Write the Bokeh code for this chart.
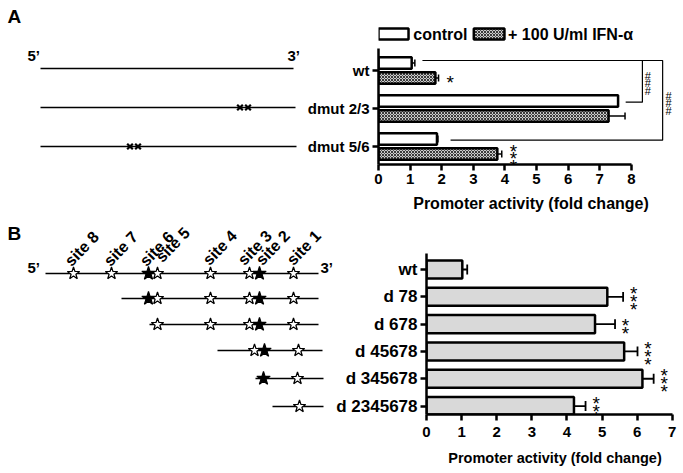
import numpy as np
from bokeh.plotting import figure
from bokeh.models import Range1d, FixedTicker, ColumnDataSource
from bokeh.layouts import row, column
from bokeh.core.properties import value
from bokeh.transform import dodge
from bokeh.embed import file_html
from bokeh.resources import INLINE

FONT = "Liberation Sans"

# ---------------- Panel A data ----------------
a_constructs = ["wt", "dmut 2/3", "dmut 5/6"]
a_control = [1.05, 7.58, 1.85]
a_control_err = [0.10, 0.0, 0.03]
a_ifn = [1.80, 7.28, 3.76]
a_ifn_err = [0.10, 0.52, 0.14]
a_ifn_sig = ["*", "", "***"]
a_xticks = [0, 1, 2, 3, 4, 5, 6, 7, 8]
a_legend = ["control", "+ 100 U/ml IFN-\u03b1"]

# ---------------- Panel B data ----------------
b_constructs = ["wt", "d 78", "d 678", "d 45678", "d 345678", "d 2345678"]
b_activity = [1.02, 5.15, 4.80, 5.63, 6.15, 4.20]
b_err = [0.14, 0.45, 0.57, 0.38, 0.32, 0.33]
b_sig = ["", "***", "**", "***", "***", "***"]
b_xticks = [0, 1, 2, 3, 4, 5, 6, 7]

# promoter diagram (B): site positions along promoter, black = filled star
site_names = ["site 8", "site 7", "site 6", "site 5", "site 4", "site 3", "site 2", "site 1"]
site_pos = [73, 111, 148, 157, 210, 249, 259, 293]
site_black = [False, False, True, False, False, False, True, False]
label_x = [67, 106, 142, 158, 205, 240, 258, 289]
label_y = [263, 263, 263, 259, 262, 262, 262, 262]
row_first_site = [0, 2, 3, 5, 6, 7]   # index of first remaining site per construct
row_start = [45, 121, 149, 217, 255, 272]
row_end = [318, 318, 318, 322, 323, 323]
row_shift = [0, 0, 0, 5, 4, 6]
row_y = [273, 298, 324, 350, 378, 406]

# promoter diagram (A)
a_line_y = [68, 107, 146]
a_line_end = [293, 295, 296]
a_mut_pos = [None, 243.5, 133.5]


def neg(v):
    return [-x for x in v]


def clean(p):
    p.grid.visible = False
    p.outline_line_color = None
    p.frame_align = False
    return p


def style_axis(ax, size="15px"):
    ax.axis_line_width = 2.5
    ax.axis_line_color = "black"
    ax.major_tick_line_width = 2.5
    ax.major_tick_line_color = "black"
    ax.minor_tick_line_color = None
    ax.major_tick_in = 0
    ax.major_label_text_font = FONT
    ax.major_label_text_font_style = "bold"
    ax.major_label_text_font_size = size
    ax.major_label_text_color = "black"
    ax.axis_label_text_font = FONT
    ax.axis_label_text_font_style = "bold"
    ax.axis_label_text_color = "black"


def stacked(x, y, n, spacing):
    xs, ys = [], []
    for j in range(n):
        xs.append(x)
        ys.append(y + (j - (n - 1) / 2) * spacing)
    return xs, ys


TOP_H = 220
BOT_H = 251
DA_W = 300
DB_W = 333
TOTAL_W = 683

# ================= Diagram A =================
dA = clean(figure(width=DA_W, height=TOP_H, x_range=Range1d(0, DA_W), y_range=Range1d(-TOP_H, 0),
                  output_backend="svg", toolbar_location=None, min_border=0,
                  x_axis_location=None, y_axis_location=None))
dA.text(x=[7], y=[-16], text=["A"], text_font=value(FONT), text_font_style="bold",
        text_font_size="19px", text_baseline="middle", text_color="black")
dA.text(x=[27, 287], y=[-55, -55], text=["5\u2019", "3\u2019"], text_font=value(FONT),
        text_font_style="bold", text_font_size="15px", text_baseline="middle", text_color="black")
dA.segment(x0=[40] * 3, x1=a_line_end, y0=neg(a_line_y), y1=neg(a_line_y), line_color="black", line_width=1.5)
mx, my = [], []
for m, yy in zip(a_mut_pos, a_line_y):
    if m is not None:
        mx += [m - 4, m + 4]
        my += [-yy, -yy]
dA.scatter(x=mx, y=my, marker="x", size=8, line_color="black", line_width=2.2)

# ================= Bars A =================
pA = clean(figure(width=TOTAL_W - DA_W, height=TOP_H, x_range=Range1d(0, 9.65),
                  y_range=Range1d(2.474, -1.316),
                  output_backend="svg", toolbar_location=None, min_border_left=78,
                  min_border_right=0, min_border_top=20, min_border_bottom=TOP_H - 164))
yA = list(range(len(a_constructs)))
srcA = ColumnDataSource(dict(y=yA, control=a_control, ifn=a_ifn))
off = 0.197
hA = 0.30
HATCH = dict(hatch_pattern="diagonal_cross", hatch_scale=3, hatch_weight=1, hatch_color="#3a3a3a")
pA.hbar(y=dodge("y", -off, range=pA.y_range), right="control", height=hA, source=srcA,
        fill_color="white", line_color="black", line_width=2.5)
pA.hbar(y=dodge("y", off, range=pA.y_range), right="ifn", height=hA, source=srcA,
        fill_color="#cccccc", line_color="black", line_width=2.5, **HATCH)
# error bars
ex0, ex1, ey, cy0, cy1, cx = [], [], [], [], [], []
for i in yA:
    for v, e, o in ((a_control[i], a_control_err[i], -off), (a_ifn[i], a_ifn_err[i], off)):
        if e > 0:
            ex0.append(v); ex1.append(v + e); ey.append(i + o)
            cx.append(v + e); cy0.append(i + o - 0.09); cy1.append(i + o + 0.09)
pA.segment(x0=ex0, x1=ex1, y0=ey, y1=ey, line_color="black", line_width=1.5)
pA.segment(x0=cx, x1=cx, y0=cy0, y1=cy1, line_color="black", line_width=1.5)
# significance asterisks
sx, sy = [], []
for i in yA:
    n = len(a_ifn_sig[i])
    if n:
        xs, ys = stacked(a_ifn[i] + a_ifn_err[i] + 0.37, i + off, n, 0.2)
        sx += xs; sy += ys
pA.text(x=sx, y=sy, text=["*"] * len(sx), text_font=value(FONT), text_font_size="19px",
        text_align="center", text_baseline="middle", y_offset=5, text_color="black")
# brackets
top_y = -0.263
b_out_x = 8.99
b_in_x = 8.35
pA.line(x=[a_control[0] + 0.34, b_out_x, b_out_x, a_control[2] + 0.43],
        y=[top_y, top_y, 2 - off + 0.03, 2 - off + 0.03], line_color="black", line_width=1.2)
pA.line(x=[b_in_x, b_in_x, a_control[1] + 0.24], y=[top_y, 1 - off + 0.03, 1 - off + 0.03],
        line_color="black", line_width=1.2)
hx, hy = [], []
for bx, yc in ((b_in_x + 0.17, 0.342), (b_out_x + 0.19, 0.868)):
    xs, ys = stacked(bx, yc, 3, 0.2)
    hx += xs; hy += ys
pA.text(x=hx, y=hy, text=["#"] * len(hx), text_font=value(FONT), text_font_size="11px",
        text_align="center", text_baseline="middle", text_color="black")
# legend
pA.rect(x=[0.475], y=[-0.96], width=0.95, height=0.29, fill_color="white",
        line_color="black", line_width=2.5)
pA.rect(x=[3.5], y=[-0.96], width=0.97, height=0.29, fill_color="#cccccc",
        line_color="black", line_width=2.5, **HATCH)
pA.text(x=[1.1, 4.1], y=[-0.96, -0.96], text=a_legend, text_font=value(FONT),
        text_font_style="bold", text_font_size="16px", text_baseline="middle", text_color="black")
style_axis(pA.xaxis[0])
style_axis(pA.yaxis[0])
pA.xaxis.ticker = FixedTicker(ticks=a_xticks)
pA.xaxis.bounds = (0, 8)
pA.xaxis.major_tick_out = 6
pA.xaxis.major_label_standoff = 3
pA.xaxis.axis_label = "Promoter activity (fold change)"
pA.xaxis.axis_label_text_font_size = "16px"
pA.xaxis.axis_label_standoff = 8
pA.yaxis.ticker = FixedTicker(ticks=yA)
pA.yaxis.major_label_overrides = {i: n for i, n in zip(yA, a_constructs)}
pA.yaxis.bounds = (-0.579, 2.474)
pA.yaxis.major_tick_out = 6
pA.yaxis.major_label_standoff = 3

# ================= Diagram B =================
Y0 = TOP_H
dB = clean(figure(width=DB_W, height=BOT_H, x_range=Range1d(0, DB_W),
                  y_range=Range1d(-(Y0 + BOT_H), -Y0),
                  output_backend="svg", toolbar_location=None, min_border=0,
                  x_axis_location=None, y_axis_location=None))
dB.text(x=[7], y=[-233], text=["B"], text_font=value(FONT), text_font_style="bold",
        text_font_size="19px", text_baseline="middle", text_color="black")
dB.text(x=[27, 320], y=[-267, -267], text=["5\u2019", "3\u2019"], text_font=value(FONT),
        text_font_style="bold", text_font_size="15px", text_baseline="middle", text_color="black")
dB.segment(x0=row_start, x1=row_end, y0=neg(row_y), y1=neg(row_y), line_color="black", line_width=1.5)
ox, oy, bx_, by_ = [], [], [], []
for r in range(len(row_y)):
    for k in range(row_first_site[r], len(site_pos)):
        if site_black[k]:
            bx_.append(site_pos[k] + row_shift[r]); by_.append(-row_y[r])
        else:
            ox.append(site_pos[k] + row_shift[r]); oy.append(-row_y[r])
dB.scatter(x=ox, y=oy, marker="star", size=13, fill_color="white", line_color="black", line_width=1.2)
dB.scatter(x=bx_, y=by_, marker="star", size=14, fill_color="black", line_color="black", line_width=1.2)
dB.text(x=label_x, y=neg(label_y), text=site_names, angle=0.8, text_font=value(FONT),
        text_font_style="bold", text_font_size="16px", text_baseline="alphabetic",
        text_align="left", text_color="black")

# ================= Bars B =================
pB = clean(figure(width=TOTAL_W - DB_W, height=BOT_H, x_range=Range1d(0, 7.32),
                  y_range=Range1d(5.31, -0.696),
                  output_backend="svg", toolbar_location=None, min_border_left=424 - DB_W,
                  min_border_right=0, min_border_top=250 - Y0, min_border_bottom=Y0 + BOT_H - 414))
yB = list(range(len(b_constructs)))
srcB = ColumnDataSource(dict(y=yB, v=b_activity))
pB.hbar(y="y", right="v", height=0.66, source=srcB, fill_color="#d9d9d9",
        line_color="black", line_width=2.5)
ex0 = b_activity
ex1 = [v + e for v, e in zip(b_activity, b_err)]
pB.segment(x0=ex0, x1=ex1, y0=yB, y1=yB, line_color="black", line_width=1.8)
pB.segment(x0=ex1, x1=ex1, y0=[y - 0.18 for y in yB], y1=[y + 0.18 for y in yB],
           line_color="black", line_width=1.8)
sx, sy = [], []
for i in yB:
    n = len(b_sig[i])
    if n:
        xs, ys = stacked(ex1[i] + 0.3, i, n, 0.29)
        sx += xs; sy += ys
pB.text(x=sx, y=sy, text=["*"] * len(sx), text_font=value(FONT), text_font_size="19px",
        text_align="center", text_baseline="middle", y_offset=5, text_color="black")
style_axis(pB.xaxis[0])
style_axis(pB.yaxis[0], size="17px")
pB.xaxis.ticker = FixedTicker(ticks=b_xticks)
pB.xaxis.bounds = (0, 7)
pB.xaxis.major_tick_out = 6
pB.xaxis.major_label_standoff = 6
pB.xaxis.axis_label = "Promoter activity (fold change)"
pB.xaxis.axis_label_text_font_size = "14.5px"
pB.xaxis.axis_label_standoff = 10
pB.yaxis.ticker = FixedTicker(ticks=yB)
pB.yaxis.major_label_overrides = {i: n for i, n in zip(yB, b_constructs)}
pB.yaxis.bounds = (-0.586, 5.31)
pB.yaxis.major_tick_out = 6
pB.yaxis.major_label_standoff = 3

layout = column(row(dA, pA), row(dB, pB))
open("out.html", "w").write(file_html(layout, INLINE))
